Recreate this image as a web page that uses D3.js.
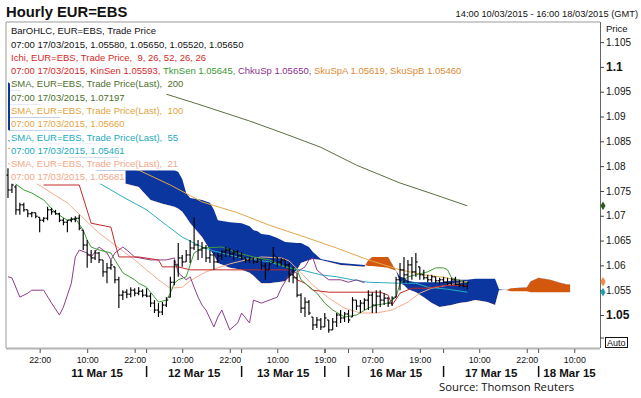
<!DOCTYPE html>
<html><head><meta charset="utf-8">
<script src="https://cdn.jsdelivr.net/npm/d3@7/dist/d3.min.js"></script>
<style>
html,body{margin:0;padding:0;background:#fff;}
svg{display:block;font-family:"Liberation Sans",Arial,sans-serif;}
text{white-space:pre;}
</style></head><body>
<svg id="c" width="641" height="398"></svg>
<script>
// ---------- DATA (hourly bars, index 0 = 14:00 10/03/2015, last = 07:00 17/03/2015) ----------
const bars = [ // [open, high, low, close]
[1.0782,1.0796,1.0736,1.0752],[1.0752,1.0766,1.0746,1.0762],[1.0758,1.0762,1.0702,1.0712],[1.0712,1.0726,1.0702,1.0722],
[1.0722,1.0726,1.0708,1.0712],[1.0712,1.0712,1.0697,1.0704],[1.0704,1.0708,1.0697,1.0706],[1.0706,1.0706,1.0695,1.0699],
[1.0697,1.0697,1.0667,1.0691],[1.0691,1.0697,1.0687,1.0695],[1.0695,1.0718,1.0691,1.0712],[1.0712,1.0716,1.0702,1.0708],
[1.0708,1.0712,1.0702,1.0704],[1.0704,1.0706,1.0687,1.0691],[1.0691,1.0695,1.0681,1.0687],[1.0687,1.0691,1.0667,1.0691],
[1.0691,1.0697,1.0687,1.0693],[1.0693,1.0699,1.0687,1.0695],[1.0695,1.0702,1.0671,1.0675],[1.0671,1.0671,1.0631,1.0641],
[1.0641,1.0651,1.0595,1.0621],[1.0621,1.0631,1.0605,1.0615],[1.0615,1.0631,1.0611,1.0625],[1.0625,1.0627,1.0605,1.0611],
[1.0611,1.0611,1.0577,1.0587],[1.0587,1.0605,1.0564,1.0595],[1.0595,1.0611,1.0591,1.0601],[1.0597,1.0597,1.0564,1.0571],
[1.0571,1.0577,1.0514,1.0540],[1.0540,1.0550,1.0530,1.0546],[1.0546,1.0552,1.0534,1.0542],[1.0542,1.0556,1.0536,1.0550],
[1.0550,1.0554,1.0538,1.0544],[1.0544,1.0556,1.0540,1.0548],[1.0548,1.0552,1.0536,1.0540],[1.0540,1.0554,1.0536,1.0538],
[1.0538,1.0544,1.0516,1.0524],[1.0524,1.0530,1.0504,1.0510],[1.0510,1.0524,1.0496,1.0506],[1.0506,1.0526,1.0500,1.0520],
[1.0520,1.0536,1.0516,1.0530],[1.0536,1.0577,1.0536,1.0566],[1.0566,1.0611,1.0560,1.0601],[1.0601,1.0645,1.0577,1.0615],
[1.0615,1.0621,1.0597,1.0607],[1.0607,1.0631,1.0607,1.0621],[1.0621,1.0651,1.0605,1.0635],[1.0635,1.0697,1.0631,1.0641],
[1.0641,1.0651,1.0611,1.0631],[1.0631,1.0647,1.0615,1.0635],[1.0635,1.0641,1.0607,1.0615],[1.0615,1.0631,1.0605,1.0621],
[1.0621,1.0625,1.0591,1.0607],[1.0607,1.0625,1.0605,1.0619],[1.0619,1.0631,1.0611,1.0627],[1.0627,1.0637,1.0617,1.0631],
[1.0631,1.0635,1.0617,1.0623],[1.0623,1.0631,1.0611,1.0627],[1.0627,1.0631,1.0615,1.0619],[1.0619,1.0627,1.0611,1.0615],
[1.0615,1.0617,1.0605,1.0611],[1.0611,1.0617,1.0605,1.0613],[1.0613,1.0615,1.0603,1.0607],[1.0607,1.0615,1.0605,1.0611],
[1.0611,1.0611,1.0591,1.0599],[1.0599,1.0605,1.0571,1.0591],[1.0591,1.0607,1.0591,1.0603],[1.0605,1.0637,1.0605,1.0621],
[1.0617,1.0617,1.0597,1.0607],[1.0607,1.0615,1.0599,1.0611],[1.0611,1.0611,1.0595,1.0601],[1.0601,1.0605,1.0566,1.0581],
[1.0581,1.0597,1.0564,1.0575],[1.0575,1.0585,1.0536,1.0540],[1.0540,1.0544,1.0504,1.0514],[1.0514,1.0536,1.0496,1.0526],
[1.0526,1.0530,1.0500,1.0504],[1.0496,1.0496,1.0470,1.0480],[1.0480,1.0496,1.0474,1.0490],[1.0490,1.0494,1.0470,1.0476],
[1.0476,1.0504,1.0476,1.0494],[1.0490,1.0490,1.0464,1.0470],[1.0470,1.0494,1.0470,1.0486],[1.0486,1.0504,1.0476,1.0500],
[1.0500,1.0510,1.0484,1.0494],[1.0494,1.0506,1.0486,1.0502],[1.0502,1.0510,1.0484,1.0490],[1.0496,1.0536,1.0496,1.0530],
[1.0530,1.0530,1.0510,1.0518],[1.0518,1.0530,1.0504,1.0524],[1.0524,1.0534,1.0510,1.0530],[1.0530,1.0550,1.0510,1.0540],
[1.0540,1.0546,1.0504,1.0520],[1.0520,1.0550,1.0504,1.0538],[1.0538,1.0550,1.0516,1.0530],[1.0530,1.0544,1.0520,1.0534],
[1.0534,1.0536,1.0516,1.0524],[1.0524,1.0538,1.0518,1.0534],[1.0536,1.0577,1.0536,1.0571],[1.0571,1.0605,1.0550,1.0591],
[1.0591,1.0617,1.0564,1.0581],[1.0581,1.0611,1.0564,1.0601],[1.0601,1.0617,1.0571,1.0587],[1.0587,1.0625,1.0577,1.0607],
[1.0597,1.0597,1.0571,1.0581],[1.0581,1.0591,1.0571,1.0575],[1.0575,1.0581,1.0566,1.0571],[1.0571,1.0581,1.0566,1.0577],
[1.0577,1.0577,1.0564,1.0569],[1.0569,1.0575,1.0562,1.0571],[1.0571,1.0577,1.0564,1.0566],[1.0566,1.0575,1.0560,1.0564],
[1.0564,1.0575,1.0560,1.0571],[1.0571,1.0577,1.0560,1.0562],[1.0562,1.0571,1.0556,1.0560],[1.0560,1.0569,1.0556,1.0558],
[1.0558,1.0565,1.0552,1.0565]
];

// moving averages: [bar index, value]
const sma200 = [[40,1.0945],[48,1.0925],[61,1.0891],[70,1.0865],[79,1.0838],[88,1.0802],[99,1.0766],[108,1.0742],[116,1.0720]];
const sma100 = [[0,1.0836],[33,1.0792],[41,1.0762],[49,1.0728],[58,1.0706],[66,1.0681],[75,1.0657],[83,1.0635],[91,1.0611],[99,1.0591],[105,1.0581],[109,1.0577],[112,1.0573],[116,1.0566]];
const sma55 = [[0,1.0852],[23,1.0766],[29,1.0738],[35,1.0712],[40,1.0681],[44,1.0657],[49,1.0637],[52,1.0629],[58,1.0617],[66,1.0607],[70,1.0597],[75,1.0589],[79,1.0581],[83,1.0577],[87,1.0571],[91,1.0566],[99,1.0564],[103,1.0564],[106,1.0556],[111,1.0552],[116,1.0546]];
const sma21 = [[0,1.0806],[7,1.0766],[15,1.0726],[23,1.0665],[32,1.0611],[38,1.0571],[41,1.0554],[44,1.0556],[46,1.0569],[50,1.0587],[56,1.0603],[60,1.0611],[64,1.0617],[69,1.0615],[71,1.0609],[74,1.0585],[77,1.0560],[81,1.0534],[85,1.0514],[89,1.0504],[93,1.0504],[97,1.0510],[101,1.0526],[104,1.0544],[107,1.0554],[111,1.0560],[116,1.0568]];

// Ichimoku lines: [bar index, value]
const kijun = [[9,1.0762],[18,1.0762],[21,1.0685],[26,1.0677],[27,1.0645],[28,1.0617],[33,1.0617],[38,1.0611],[39,1.0597],[43,1.0597],[46,1.0591],[71,1.0591],[73,1.0571],[75,1.0564],[77,1.0550],[81,1.0546],[94,1.0546],[96,1.0540],[97,1.0520],[99,1.0544],[102,1.0554],[106,1.0554],[111,1.0560],[116,1.0559]];
const tenkan = [[1,1.0770],[4,1.0752],[6,1.0746],[9,1.0732],[12,1.0706],[15,1.0691],[17,1.0695],[19,1.0671],[20,1.0651],[21,1.0637],[23,1.0631],[26,1.0625],[27,1.0611],[29,1.0585],[32,1.0571],[33,1.0564],[35,1.0556],[37,1.0536],[38,1.0526],[40,1.0530],[41,1.0544],[42,1.0564],[43,1.0571],[45,1.0577],[47,1.0625],[49,1.0635],[54,1.0637],[58,1.0625],[62,1.0617],[66,1.0611],[70,1.0597],[73,1.0591],[74,1.0571],[78,1.0544],[80,1.0524],[82,1.0510],[85,1.0496],[88,1.0500],[91,1.0514],[93,1.0520],[96,1.0524],[98,1.0536],[99,1.0564],[101,1.0577],[103,1.0581],[106,1.0587],[108,1.0595],[110,1.0595],[111,1.0591],[112,1.0575],[116,1.0565]];
const chikou = [[0,1.0577],[1,1.0575],[3,1.0536],[5,1.0544],[6,1.0550],[9,1.0550],[11,1.0524],[13,1.0500],[14,1.0516],[16,1.0564],[17,1.0617],[18,1.0631],[20,1.0625],[21,1.0617],[23,1.0637],[25,1.0625],[26,1.0611],[27,1.0625],[29,1.0637],[30,1.0631],[32,1.0617],[36,1.0611],[40,1.0611],[42,1.0615],[43,1.0585],[45,1.0571],[46,1.0577],[47,1.0556],[48,1.0536],[49,1.0520],[50,1.0510],[52,1.0476],[53,1.0496],[54,1.0510],[56,1.0470],[58,1.0484],[59,1.0504],[61,1.0484],[62,1.0530],[64,1.0524],[66,1.0530],[68,1.0536],[69,1.0554],[71,1.0581],[73,1.0587],[75,1.0597],[76,1.0611],[77,1.0615],[78,1.0591],[80,1.0577],[81,1.0571],[84,1.0571],[86,1.0566],[88,1.0571],[90,1.0565]];

// Ichimoku cloud (Senkou spans, displaced 26 bars forward)
const cloudIdx = [0,29,33,36,39,42,43,44,45,46,49,51,52,53,56,59,61,62,63,64,66,68,70,73,74,76,77,79,84,90,91,92,96,98,99,100,101,103,105,107,109,112,114,116,118,121,123,124,126,127,131,132,134,137,139,141,142];
const spanA = [1.0873,1.0766,1.0758,1.0732,1.0724,1.0718,1.0714,1.0708,1.0697,1.0685,1.0657,1.0631,1.0621,1.0605,1.0595,1.0591,1.0585,1.0579,1.0571,1.0564,1.0564,1.0566,1.0568,1.0591,1.0605,1.0611,1.0613,1.0611,1.0601,1.0597,1.0611,1.0617,1.0617,1.0589,1.0564,1.0560,1.0552,1.0546,1.0536,1.0524,1.0516,1.0520,1.0524,1.0526,1.0530,1.0526,1.0520,1.0550,1.0551,1.0554,1.0556,1.0568,1.0575,1.0571,1.0566,1.0562,1.0562];
const spanB = [1.0969,1.0812,1.0806,1.0800,1.0796,1.0792,1.0788,1.0774,1.0746,1.0736,1.0732,1.0726,1.0712,1.0691,1.0687,1.0685,1.0679,1.0671,1.0669,1.0663,1.0661,1.0655,1.0647,1.0645,1.0645,1.0637,1.0627,1.0613,1.0605,1.0601,1.0599,1.0599,1.0595,1.0589,1.0577,1.0575,1.0569,1.0566,1.0566,1.0566,1.0566,1.0569,1.0571,1.0571,1.0573,1.0573,1.0573,1.0552,1.0550,1.0548,1.0548,1.0546,1.0546,1.0546,1.0546,1.0546,1.0546];

// axes
const priceTicks = [1.05,1.055,1.06,1.065,1.07,1.075,1.08,1.085,1.09,1.095,1.1,1.105];
const timeTickIdx = [8,20,32,44,56,68,80,92,104,119,131,143];
const timeTickLabels = ["22:00","10:00","22:00","10:00","22:00","10:00","19:00","07:00","19:00","10:00","22:00","10:00"];
const daySepIdx = [35,59,80,86,110,134];
const dayLabelIdx = [22.5,47,69.5,98,122,141.8];
const dayLabels = ["11 Mar 15","12 Mar 15","13 Mar 15","16 Mar 15","17 Mar 15","18 Mar 15"];

// legend text
const legendRows = [
  [["BarOHLC, EUR=EBS, Trade Price","#111"]],
  [["07:00 17/03/2015, 1.05580, 1.05650, 1.05520, 1.05650","#111"]],
  [["Ichi, EUR=EBS, Trade Price,  9, 26, 52, 26, 26","#d42a2a"]],
  [["07:00 17/03/2015, KinSen 1.05593, ","#d42a2a"],["TknSen 1.05645, ","#3a9a34"],["ChkuSp 1.05650, ","#8e2f8e"],["SkuSpA 1.05619, SkuSpB 1.05460","#e08a34"]],
  [["SMA, EUR=EBS, Trade Price(Last),  200","#4c6e2c"]],
  [["07:00 17/03/2015, 1.07197","#4c6e2c"]],
  [["SMA, EUR=EBS, Trade Price(Last),  100","#e2a540"]],
  [["07:00 17/03/2015, 1.05660","#e2a540"]],
  [["SMA, EUR=EBS, Trade Price(Last),  55","#22aabb"]],
  [["07:00 17/03/2015, 1.05461","#22aabb"]],
  [["SMA, EUR=EBS, Trade Price(Last),  21","#f2a888"]],
  [["07:00 17/03/2015, 1.05681","#f2a888"]]
];

// ---------- DRAWING ----------
const W = 641, H = 398;
const P = {l:6, r:600, t:22, b:348};
const svg = d3.select("#c");
const x = d3.scaleLinear().domain([-0.5,149.5]).range([P.l,P.r]);
const y = d3.scaleLinear().domain([1.04335,1.10905]).range([P.b,P.t]);

const defs = svg.append("defs");
defs.append("clipPath").attr("id","plotClip").append("rect")
  .attr("x",P.l).attr("y",P.t).attr("width",P.r-P.l).attr("height",P.b-P.t);

const cloud = cloudIdx.map((d,k)=>({i:d,a:spanA[k],b:spanB[k]}));
defs.append("clipPath").attr("id","aboveA").append("path")
  .attr("d", d3.area().x(d=>x(d.i)).y0(d=>y(d.a)).y1(0)(cloud));
defs.append("clipPath").attr("id","belowA").append("path")
  .attr("d", d3.area().x(d=>x(d.i)).y0(d=>y(d.a)).y1(H)(cloud));

const g = svg.append("g").attr("clip-path","url(#plotClip)");
const band = d3.area().x(d=>x(d.i)).y0(d=>y(d.a)).y1(d=>y(d.b));
g.append("g").attr("clip-path","url(#aboveA)").append("path").attr("d",band(cloud)).attr("fill","#0b369f");
g.append("g").attr("clip-path","url(#belowA)").append("path").attr("d",band(cloud)).attr("fill","#d3580e");

const lineGen = d3.line().x(d=>x(d[0])).y(d=>y(d[1]));
const series = [
  [sma200,"#5a7040"],[sma100,"#e2a848"],[sma55,"#2aaebf"],[sma21,"#f3ad8e"],
  [chikou,"#8e3c8e"],[kijun,"#c42a2a"],[tenkan,"#3e9a36"]
];
series.forEach(([d,c])=>{
  g.append("path").attr("d",lineGen(d)).attr("fill","none").attr("stroke",c).attr("stroke-width",1);
});

// OHLC bars
const bg = g.append("g").attr("stroke","#000").attr("stroke-width",1.15);
bg.selectAll("line.hl").data(bars).join("line").attr("class","hl")
  .attr("x1",(d,i)=>x(i)).attr("x2",(d,i)=>x(i)).attr("y1",d=>y(d[1])).attr("y2",d=>y(d[2]));
bg.selectAll("line.op").data(bars).join("line").attr("class","op")
  .attr("x1",(d,i)=>x(i)-1.8).attr("x2",(d,i)=>x(i)).attr("y1",d=>y(d[0])).attr("y2",d=>y(d[0]));
bg.selectAll("line.cl").data(bars).join("line").attr("class","cl")
  .attr("x1",(d,i)=>x(i)).attr("x2",(d,i)=>x(i)+1.8).attr("y1",d=>y(d[3])).attr("y2",d=>y(d[3]));

// legend with white backgrounds
const lg = svg.append("g").attr("font-size","9.5px");
legendRows.forEach((row,k)=>{
  const base = 34.4 + k*13.27;
  const rect = lg.append("rect").attr("fill","#fff");
  const t = lg.append("text").attr("x",11).attr("y",base);
  row.forEach(([s,c])=>t.append("tspan").attr("fill",c).text(s));
  const w = t.node().getComputedTextLength();
  rect.attr("x",10).attr("y",base-9.9).attr("width",w+2).attr("height",13.27);
});

// frame
svg.append("path").attr("d",`M${P.l},${P.b}V${P.t}H${P.r}`).attr("fill","none").attr("stroke","#9a9a9a").attr("stroke-width",1);
svg.append("line").attr("x1",P.l).attr("x2",P.r).attr("y1",P.b+0.5).attr("y2",P.b+0.5).attr("stroke","#b4b4b4").attr("stroke-width",2);

// right price axis
const yAxis = svg.append("g").attr("transform",`translate(${P.r},0)`)
  .call(d3.axisRight(y).tickValues(priceTicks).tickSize(4).tickPadding(2)
    .tickFormat(d=>String(+d.toFixed(3))));
yAxis.select(".domain").attr("stroke","#666").attr("d",`M0.5,${P.t}V${P.b}`);
yAxis.selectAll(".tick line").attr("stroke","#444");
yAxis.selectAll(".tick text").attr("font-family","Liberation Sans, Arial, sans-serif")
  .attr("font-size","10px").attr("fill","#111")
  .filter(d=>d===1.05||d===1.1).attr("font-weight","bold").attr("font-size","12px");
svg.append("text").attr("x",606).attr("y",31.5).attr("font-size","9.5px").attr("fill","#111").text("Price");

// value markers on the axis
const markers = [[sma200,"#2f5a1e"],[sma100,"#e2a040"],[sma21,"#f08a50"],[sma55,"#1aa0b0"]];
markers.forEach(([d,c])=>{
  const last = d[d.length-1][1];
  svg.append("path").attr("d",d3.symbol(d3.symbolDiamond,22)())
    .attr("transform",`translate(${P.r+3},${y(last)})`).attr("fill",c);
});

// Auto box
svg.append("line").attr("x1",P.r).attr("x2",P.r+4).attr("y1",338).attr("y2",338).attr("stroke","#444");
svg.append("rect").attr("x",605.5).attr("y",337.5).attr("width",22).attr("height",10).attr("fill","#fff").attr("stroke","#111");
svg.append("text").attr("x",607).attr("y",346).attr("font-size","9px").attr("fill","#111").text("Auto");

// bottom time axis
const xAxis = svg.append("g").attr("transform",`translate(0,${P.b+1})`)
  .call(d3.axisBottom(x).tickValues(timeTickIdx).tickSize(4).tickPadding(4)
    .tickFormat((d,k)=>timeTickLabels[k]));
xAxis.select(".domain").remove();
xAxis.selectAll(".tick line").attr("stroke","#555");
xAxis.selectAll(".tick text").attr("font-family","Liberation Sans, Arial, sans-serif").attr("font-size","8.8px").attr("fill","#111");
svg.append("g").selectAll("line").data(daySepIdx).join("line")
  .attr("x1",d=>x(d)).attr("x2",d=>x(d)).attr("y1",P.b+1).attr("y2",P.b+5).attr("stroke","#555");
svg.append("g").selectAll("line").data(daySepIdx).join("line")
  .attr("x1",d=>x(d)).attr("x2",d=>x(d)).attr("y1",366).attr("y2",377).attr("stroke","#111").attr("stroke-width",1.5);
svg.append("g").selectAll("text").data(dayLabels).join("text")
  .attr("x",(d,k)=>x(dayLabelIdx[k])).attr("y",376.5).attr("text-anchor","middle")
  .attr("font-size","11.5px").attr("font-weight","bold").attr("fill","#111").text(d=>d);

// titles
svg.append("text").attr("x",6).attr("y",16.5).attr("font-size","14.8px").attr("font-weight","bold").attr("fill","#111").text("Hourly EUR=EBS");
svg.append("text").attr("x",638).attr("y",17).attr("text-anchor","end").attr("font-size","9.3px").attr("fill","#111").text("14:00 10/03/2015 - 16:00 18/03/2015 (GMT)");
svg.append("text").attr("x",439).attr("y",390.5).attr("font-family","'Open Sans',sans-serif").attr("font-size","11.3px").attr("fill","#111").text("Source: Thomson Reuters");
</script>
</body></html>
